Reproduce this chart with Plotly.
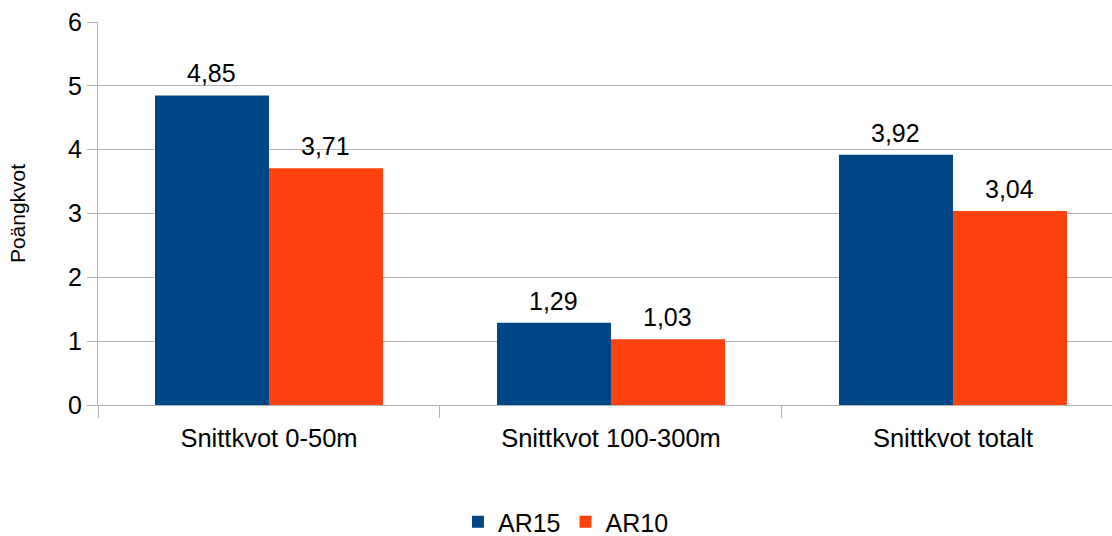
import plotly.graph_objects as go

categories = ["Snittkvot 0-50m", "Snittkvot 100-300m", "Snittkvot totalt"]
ar15 = [4.85, 1.29, 3.92]
ar10 = [3.71, 1.03, 3.04]
series_names = ["AR15", "AR10"]
series_colors = ["#004586", "#ff420e"]
y_ticks = [0, 1, 2, 3, 4, 5, 6]

FONT = "Liberation Sans, Arial, sans-serif"
BAR_PX = 114  # pixel width of one bar (group offset for labels)

fig = go.Figure()
for name, vals, color in zip(series_names, [ar15, ar10], series_colors):
    fig.add_trace(go.Bar(
        x=categories, y=vals, name=name,
        marker=dict(color=color, line=dict(width=0)),
    ))

annotations = []
for j, vals in enumerate([ar15, ar10]):
    for cat, v in zip(categories, vals):
        annotations.append(dict(
            x=cat, y=v, xref="x", yref="y",
            text=f"{v:.2f}".replace(".", ","),
            showarrow=False, yanchor="bottom", xanchor="center",
            xshift=(j - 0.5) * BAR_PX, yshift=6,
            font=dict(family=FONT, size=25, color="#000000"),
        ))

fig.update_layout(
    width=1112, height=536,
    margin=dict(l=98, r=0, t=22, b=131, autoexpand=False),
    paper_bgcolor="white", plot_bgcolor="white",
    separators=", ",
    barmode="group", bargap=1/3, bargroupgap=0,
    font=dict(family=FONT, color="#000000"),
    showlegend=True,
    annotations=annotations,
    legend=dict(orientation="h", x=0.4615, xanchor="center", y=-0.3055, yanchor="middle",
                font=dict(family=FONT, size=25), itemwidth=30, traceorder="normal"),
    xaxis=dict(
        range=[-0.5, 2.465], type="category",
        showline=True, linecolor="#b3b3b3", linewidth=1,
        ticks="outside", tickson="boundaries", ticklen=12, tickcolor="#b3b3b3",
        tickfont=dict(family=FONT, size=25.5), showgrid=False,
        ticklabelstandoff=10,
    ),
    yaxis=dict(
        range=[0, 6], tickvals=y_ticks,
        showline=True, linecolor="#b3b3b3", linewidth=1,
        ticks="outside", ticklen=10, tickcolor="#b3b3b3",
        tickfont=dict(family=FONT, size=25),
        showgrid=True, gridcolor="#b3b3b3", gridwidth=1,
        zeroline=False,
        title=dict(text="Poängkvot", font=dict(family=FONT, size=21), standoff=36),
    ),
)

fig.write_html("out.html")
